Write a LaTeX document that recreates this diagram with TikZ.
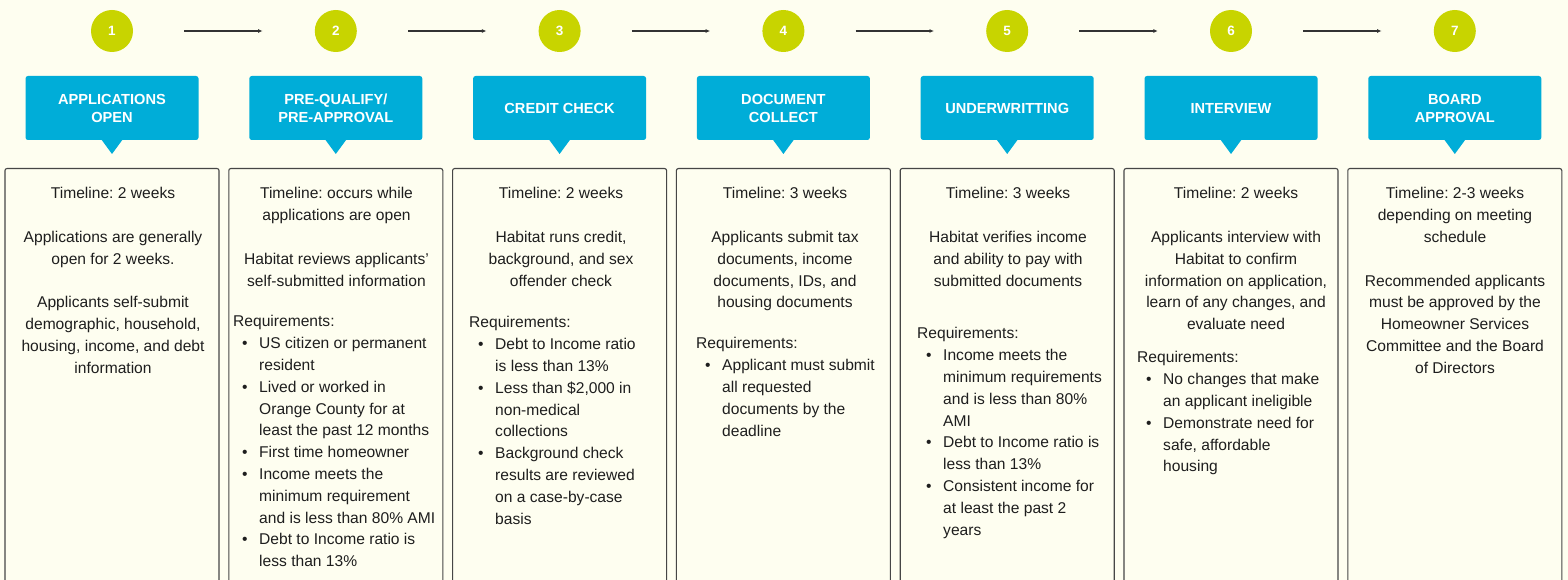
\documentclass[tikz,border=0pt]{standalone}
\usepackage{fontspec}
\setmainfont{Liberation Sans}
\usetikzlibrary{arrows.meta}
\definecolor{bgc}{RGB}{254,254,240}
\definecolor{stepgreen}{RGB}{200,212,0}
\definecolor{headblue}{RGB}{0,173,216}
\definecolor{txt}{RGB}{30,30,30}
\definecolor{framec}{RGB}{70,70,70}
\newcommand\bl{\makebox[26pt][l]{\hspace{9pt}\textbullet}}
\newcommand\cl{\hspace*{26pt}}
\frenchspacing
\begin{document}
\begin{tikzpicture}[x=1pt,y=-1pt,
 numcirc/.style={circle,fill=stepgreen,minimum size=42pt,inner sep=0pt,text=white,font=\bfseries\fontsize{13.5}{13.5}\selectfont},
 headbox/.style={rectangle,rounded corners=2.5pt,fill=headblue,minimum width=173pt,minimum height=64pt,inner sep=0pt,text=white,align=center,font=\bfseries\fontsize{14.6}{18}\selectfont},
 pointer/.style={fill=headblue},
 infobox/.style={rectangle,draw=framec,line width=1.1pt,rounded corners=2pt,minimum width=214pt,minimum height=430pt,anchor=north,inner sep=0pt},
 bodytext/.style={anchor=north,align=center,inner sep=0pt,text=txt,font=\frenchspacing\fontsize{15.6}{21.8}\selectfont},
 reqtext/.style={anchor=north west,align=left,inner sep=0pt,text=txt,font=\frenchspacing\fontsize{15.6}{21.8}\selectfont},
 flow/.style={draw=black!80,line width=1.1pt,-{Latex[length=4.5pt,width=4pt]},shorten <=51pt,shorten >=52pt}]
\useasboundingbox (0,0) rectangle (1568,580);
\clip (0,0) rectangle (1568,580);
\fill[bgc] (0,0) rectangle (1568,580);

% numbered circles
\node[numcirc] (c1) at (112,31) {1};
\node[numcirc] (c2) at (335.8,31) {2};
\node[numcirc] (c3) at (559.6,31) {3};
\node[numcirc] (c4) at (783.4,31) {4};
\node[numcirc] (c5) at (1007.2,31) {5};
\node[numcirc] (c6) at (1231,31) {6};
\node[numcirc] (c7) at (1454.8,31) {7};
\draw[flow] (c1) -- (c2);
\draw[flow] (c2) -- (c3);
\draw[flow] (c3) -- (c4);
\draw[flow] (c4) -- (c5);
\draw[flow] (c5) -- (c6);
\draw[flow] (c6) -- (c7);

% headers
\node[headbox] (h1) at (112,108) {APPLICATIONS\\OPEN};
\node[headbox] (h2) at (335.8,108) {PRE-QUALIFY/\\PRE-APPROVAL};
\node[headbox] (h3) at (559.6,108) {CREDIT CHECK};
\node[headbox] (h4) at (783.4,108) {DOCUMENT\\COLLECT};
\node[headbox] (h5) at (1007.2,108) {UNDERWRITTING};
\node[headbox] (h6) at (1231,108) {INTERVIEW};
\node[headbox] (h7) at (1454.8,108) {BOARD\\APPROVAL};
\fill[pointer] (101,139) -- (112,154) -- (123,139) -- cycle;
\fill[pointer] (324.8,139) -- (335.8,154) -- (346.8,139) -- cycle;
\fill[pointer] (548.6,139) -- (559.6,154) -- (570.6,139) -- cycle;
\fill[pointer] (772.4,139) -- (783.4,154) -- (794.4,139) -- cycle;
\fill[pointer] (996.2,139) -- (1007.2,154) -- (1018.2,139) -- cycle;
\fill[pointer] (1220,139) -- (1231,154) -- (1242,139) -- cycle;
\fill[pointer] (1443.8,139) -- (1454.8,154) -- (1465.8,139) -- cycle;

% info boxes
\node[infobox] (b1) at (112,168) {};
\node[infobox] (b2) at (335.8,168) {};
\node[infobox] (b3) at (559.6,168) {};
\node[infobox] (b4) at (783.4,168) {};
\node[infobox] (b5) at (1007.2,168) {};
\node[infobox] (b6) at (1231,168) {};
\node[infobox] (b7) at (1454.8,168) {};

% body texts
\node[bodytext] (t1) at (113,187.3) {Timeline: 2 weeks\\[21.8pt]Applications are generally\\open for 2 weeks.\\[21.8pt]Applicants self-submit\\demographic, household,\\housing, income, and debt\\information};
\node[bodytext] (t2) at (336.5,187.3) {Timeline: occurs while\\applications are open\\[21.8pt]Habitat reviews applicants’\\self-submitted information};
\node[bodytext] (t3) at (561,187.3) {Timeline: 2 weeks\\[21.8pt]Habitat runs credit,\\background, and sex\\offender check};
\node[bodytext] (t4) at (785,187.3) {Timeline: 3 weeks\\[21.8pt]Applicants submit tax\\documents, income\\documents, IDs, and\\housing documents};
\node[bodytext] (t5) at (1008,187.3) {Timeline: 3 weeks\\[21.8pt]Habitat verifies income\\and ability to pay with\\submitted documents};
\node[bodytext] (t6) at (1236,187.3) {Timeline: 2 weeks\\[21.8pt]Applicants interview with\\Habitat to confirm\\information on application,\\learn of any changes, and\\evaluate need};
\node[bodytext] (t7) at (1455,187.3) {Timeline: 2-3 weeks\\depending on meeting\\schedule\\[21.8pt]Recommended applicants\\must be approved by the\\Homeowner Services\\Committee and the Board\\of Directors};

% requirements
\node[reqtext] (r2) at (233,315.3) {Requirements:\\
\bl US citizen or permanent\\
\cl resident\\
\bl Lived or worked in\\
\cl Orange County for at\\
\cl least the past 12 months\\
\bl First time homeowner\\
\bl Income meets the\\
\cl minimum requirement\\
\cl and is less than 80\% AMI\\
\bl Debt to Income ratio is\\
\cl less than 13\%};
\node[reqtext] (r3) at (469,316.3) {Requirements:\\
\bl Debt to Income ratio\\
\cl is less than 13\%\\
\bl Less than \$2,000 in\\
\cl non-medical\\
\cl collections\\
\bl Background check\\
\cl results are reviewed\\
\cl on a case-by-case\\
\cl basis};
\node[reqtext] (r4) at (696,337.3) {Requirements:\\
\bl Applicant must submit\\
\cl all requested\\
\cl documents by the\\
\cl deadline};
\node[reqtext] (r5) at (917,327.3) {Requirements:\\
\bl Income meets the\\
\cl minimum requirements\\
\cl and is less than 80\%\\
\cl AMI\\
\bl Debt to Income ratio is\\
\cl less than 13\%\\
\bl Consistent income for\\
\cl at least the past 2\\
\cl years};
\node[reqtext] (r6) at (1137,351.3) {Requirements:\\
\bl No changes that make\\
\cl an applicant ineligible\\
\bl Demonstrate need for\\
\cl safe, affordable\\
\cl housing};
\end{tikzpicture}
\end{document}
